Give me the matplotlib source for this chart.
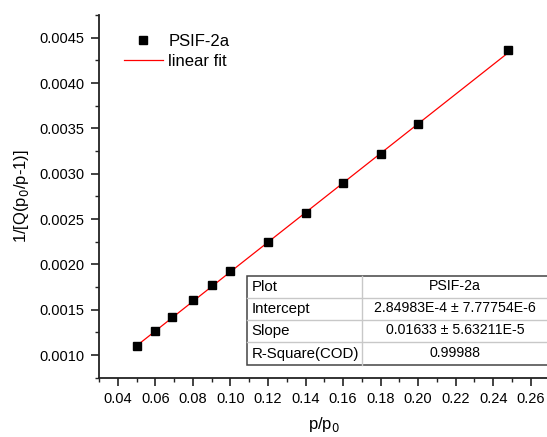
import matplotlib
matplotlib.use("Agg")
import matplotlib.pyplot as plt
from matplotlib.patches import Rectangle
from matplotlib.lines import Line2D
from matplotlib.ticker import MultipleLocator, FormatStrFormatter

plt.rcParams['font.family'] = ['Liberation Sans', 'DejaVu Sans']

# BET plot data
p_rel = [0.05, 0.06, 0.069, 0.08, 0.09, 0.10, 0.12, 0.14, 0.16, 0.18, 0.20, 0.248]
inv_q = [0.001096, 0.001268, 0.001416, 0.001607, 0.001769, 0.001924,
         0.002244, 0.002567, 0.002898, 0.003219, 0.003546, 0.004366]

# Linear fit parameters
intercept = 2.84983e-4
slope = 0.01633

table_rows = [
    ("Plot", "PSIF-2a"),
    ("Intercept", "2.84983E-4 \u00b1 7.77754E-6"),
    ("Slope", "0.01633 \u00b1 5.63211E-5"),
    ("R-Square(COD)", "0.99988"),
]

W, H = 547, 437
fig = plt.figure(figsize=(W / 100, H / 100), dpi=100)
ax = fig.add_axes([99 / W, (H - 377.7) / H, 450.6 / W, 362.7 / H])

ax.plot(p_rel, inv_q, linestyle='none', marker='s', markersize=5.6,
        color='black', label='PSIF-2a', zorder=3)
fit_x = [p_rel[0], p_rel[-1]]
fit_y = [intercept + slope * x for x in fit_x]
ax.plot(fit_x, fit_y, color='red', linewidth=0.9, label='linear fit', zorder=2)

ax.set_xlim(0.03, 0.27)
ax.set_ylim(0.00075, 0.00475)

ax.xaxis.set_major_locator(MultipleLocator(0.02))
ax.xaxis.set_minor_locator(MultipleLocator(0.01))
ax.yaxis.set_major_locator(MultipleLocator(0.0005))
ax.yaxis.set_minor_locator(MultipleLocator(0.00025))
ax.yaxis.set_major_formatter(FormatStrFormatter('%.4f'))

for side in ('top', 'right'):
    ax.spines[side].set_visible(False)
for side in ('left', 'bottom'):
    ax.spines[side].set_linewidth(1.3)
    ax.spines[side].set_color('#222222')

ax.tick_params(which='major', direction='out', length=5.5, width=1.2,
               labelsize=10.5, color='#222222', pad=5)
ax.tick_params(which='minor', direction='out', length=3, width=1.0, color='#222222')

# x ticks stop at 0.26 so the last label stays inside the figure
xt = [0.04 + 0.02 * i for i in range(12)]
ax.set_xticks(xt)
ax.set_xticklabels([f"{v:.2f}" for v in xt])

ax.set_xlabel('p/p$_0$', fontsize=12, labelpad=6)
ax.set_ylabel('1/[Q(p$_0$/p-1)]', fontsize=12, labelpad=6)

leg = ax.legend(loc='upper left', bbox_to_anchor=(0.03, 0.98), frameon=False,
                fontsize=12, handlelength=2.3, handletextpad=0.35,
                labelspacing=0.32, borderpad=0.2)

# Fit results table, drawn in figure pixel coordinates
def px(x, y):
    return x / W, (H - y) / H

tx0, tx1, tcol = 246.7, 548.0, 362.3
ty0, ty1 = 275.7, 364.7
row_h = (ty1 - ty0) / len(table_rows)

for i in range(1, len(table_rows)):
    y = ty0 + i * row_h
    fig.add_artist(Line2D([tx0 / W, tx1 / W], [(H - y) / H] * 2,
                          color='#c8c8c8', linewidth=1.0))
fig.add_artist(Line2D([tcol / W] * 2, [(H - ty0) / H, (H - ty1) / H],
                      color='#c8c8c8', linewidth=1.0))
x0f, y1f = px(tx0, ty1)
fig.add_artist(Rectangle((x0f, y1f), (tx1 - tx0) / W, (ty1 - ty0) / H,
                         fill=False, edgecolor='#444444', linewidth=1.1))

for i, (name, value) in enumerate(table_rows):
    yc = ty0 + (i + 0.5) * row_h
    fig.text(*px(tx0 + 5, yc), name, fontsize=10.8, ha='left', va='center')
    fig.text(*px((tcol + tx1) / 2, yc - 1), value, fontsize=10.2,
             ha='center', va='center')

fig.savefig('out.png', dpi=100, facecolor='white')
